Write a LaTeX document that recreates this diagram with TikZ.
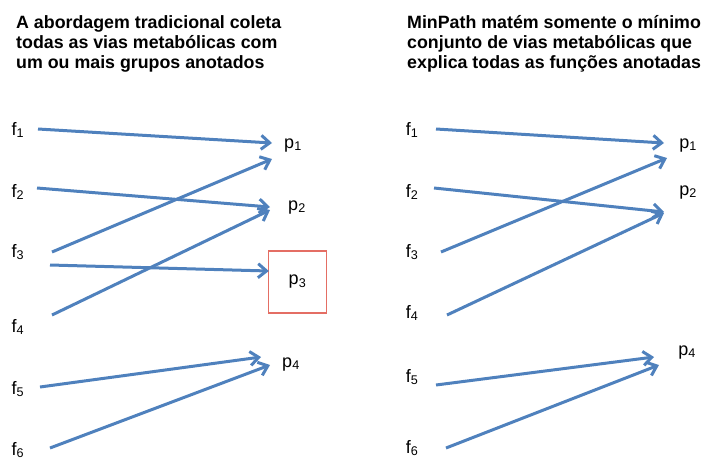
\documentclass[tikz,border=0pt]{standalone}
\usepackage{fontspec}
\setmainfont{Liberation Sans}
\usetikzlibrary{arrows.meta}

\definecolor{flowblue}{RGB}{79,129,189}
\definecolor{boxred}{RGB}{228,110,100}

% label with a lowered index, e.g. f_1
\newcommand{\ix}[2]{#1\textsubscript{#2}}

\tikzset{
  lbl/.style={inner sep=0pt,anchor=base,font=\fontsize{18}{20}\selectfont},
  heading/.style={anchor=north west,align=left,inner sep=0pt,
    font=\fontsize{17.8}{20}\selectfont\bfseries},
  flow/.style={draw=flowblue,line width=3pt,
    -{Straight Barb[length=8.5pt,width=14pt]}},
  chosen/.style={draw=boxred,line width=1.2pt,anchor=center,
    minimum width=58pt,minimum height=62pt}
}

\begin{document}
\begin{tikzpicture}[x=1pt,y=-1pt]
\useasboundingbox (0,0) rectangle (708,461);

% traditional approach
\node[heading] (lhead) at (16,15) {A abordagem tradicional coleta\\todas as vias metabólicas com\\um ou mais grupos anotados};
\node[lbl] (lf1) at (18,135) {\ix{f}{1}};
\node[lbl] (lf2) at (18,197) {\ix{f}{2}};
\node[lbl] (lf3) at (18,257) {\ix{f}{3}};
\node[lbl] (lf4) at (18,332) {\ix{f}{4}};
\node[lbl] (lf5) at (18,394) {\ix{f}{5}};
\node[lbl] (lf6) at (18,455) {\ix{f}{6}};
\node[lbl] (lp1) at (293,148) {\ix{p}{1}};
\node[lbl] (lp2) at (297,210) {\ix{p}{2}};
\node[lbl,chosen] (lp3) at (297.5,282) {\ix{p}{3}};
\node[lbl] (lp4) at (291,367) {\ix{p}{4}};

\draw[flow] ([shift={(20,-6)}]lf1.base) -- ([shift={(-21,-5)}]lp1.base);
\draw[flow] ([shift={(19,-9)}]lf2.base) -- ([shift={(-27,-3)}]lp2.base);
\draw[flow] ([shift={(34,-5)}]lf3.base) -- ([shift={(-21,11)}]lp1.base);
\draw[flow] ([shift={(32,8)}]lf3.base) -- ([shift={(1,-11)}]lp3.west);
\draw[flow] ([shift={(34,-17)}]lf4.base) -- ([shift={(-27,0)}]lp2.base);
\draw[flow] ([shift={(22,-7)}]lf5.base) -- ([shift={(-30,-10)}]lp4.base);
\draw[flow] ([shift={(32,-7)}]lf6.base) -- ([shift={(-21,-2)}]lp4.base);

% MinPath
\node[heading] (rhead) at (407,15) {MinPath matém somente o mínimo\\conjunto de vias metabólicas que\\explica todas as funções anotadas};
\node[lbl] (rf1) at (412,135) {\ix{f}{1}};
\node[lbl] (rf2) at (412,197) {\ix{f}{2}};
\node[lbl] (rf3) at (412,257) {\ix{f}{3}};
\node[lbl] (rf4) at (412,318) {\ix{f}{4}};
\node[lbl] (rf5) at (412,382) {\ix{f}{5}};
\node[lbl] (rf6) at (412,453) {\ix{f}{6}};
\node[lbl] (rp1) at (688,148) {\ix{p}{1}};
\node[lbl] (rp2) at (688,195) {\ix{p}{2}};
\node[lbl] (rp4) at (687,355) {\ix{p}{4}};

\draw[flow] ([shift={(24,-6)}]rf1.base) -- ([shift={(-24,-5)}]rp1.base);
\draw[flow] ([shift={(22,-9)}]rf2.base) -- ([shift={(-24,17)}]rp2.base);
\draw[flow] ([shift={(29,-5)}]rf3.base) -- ([shift={(-21,10)}]rp1.base);
\draw[flow] ([shift={(35,-3)}]rf4.base) -- ([shift={(-24,18)}]rp2.base);
\draw[flow] ([shift={(24,3)}]rf5.base) -- ([shift={(-33,2)}]rp4.base);
\draw[flow] ([shift={(34,-5)}]rf6.base) -- ([shift={(-28,10)}]rp4.base);
\end{tikzpicture}
\end{document}
